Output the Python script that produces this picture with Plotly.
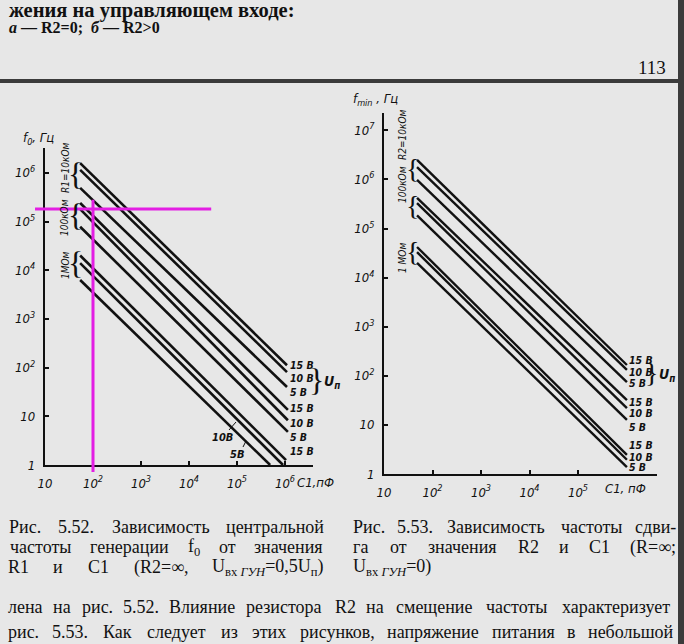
import re
import plotly.graph_objects as go

W, H = 684, 644

# ---------------- data ----------------
volt_labels = ["15 В", "10 В", "5 В"]

# Fig. 5.52: f0 vs C1 for R1 = 10 kOhm, 100 kOhm, 1 MOhm (each 15/10/5 V)
left_groups = ["R1=10кОм", "100кОм", "1МОм"]
left_c_start = [54, 54, 54, 54, 54, 54, 54, 54, 54]
left_c_end = [1.1e6, 1.1e6, 1.1e6, 1.15e6, 1.15e6, 1.15e6, 1.05e6, 9.1e5, 4.9e5]
left_f_start = [1.58e6, 1.15e6, 4.9e5, 2.4e5, 1.8e5, 7.8e4, 2.0e4, 1.4e4, 6.3e3]
left_f_end = [112, 81, 40, 13.5, 8.3, 4.8, 1.26, 1.0, 1.0]

# Fig. 5.53: fmin vs C1 for R2 = 10 kOhm, 100 kOhm, 1 MOhm (each 15/10/5 V)
right_groups = ["R2=10кОм", "100кОм", "1 МОм"]
right_c_start = [48, 48, 48, 48, 48, 48, 48, 48, 48]
right_c_end = [1.02e6, 1.02e6, 1.02e6, 1.02e6, 1.02e6, 1.02e6, 1.02e6, 1.02e6, 1.02e6]
right_f_start = [2.5e6, 1.78e6, 9.8e5, 4.2e5, 3.3e5, 1.86e5, 4.2e4, 3.3e4, 2.0e4]
right_f_end = [166, 132, 74, 32, 22, 12.6, 2.45, 1.95, 1.38]

# magenta guide lines drawn on Fig. 5.52
guide_h_c = [6.2, 2.9e4]
guide_h_f = [1.8e5, 1.8e5]
guide_v_c = [100, 100]
guide_v_f = [2.8e5, 0.72]

left_x_ticks = [10, 1e2, 1e3, 1e4, 1e5, 1e6]
left_x_text = ["10", "10<sup>2</sup>", "10<sup>3</sup>", "10<sup>4</sup>", "10<sup>5</sup>", "10<sup>6</sup>"]
left_y_ticks = [1, 10, 1e2, 1e3, 1e4, 1e5, 1e6]
left_y_text = ["1", "10", "10<sup>2</sup>", "10<sup>3</sup>", "10<sup>4</sup>", "10<sup>5</sup>", "10<sup>6</sup>"]
right_x_ticks = [10, 1e2, 1e3, 1e4, 1e5]
right_x_text = ["10", "10<sup>2</sup>", "10<sup>3</sup>", "10<sup>4</sup>", "10<sup>5</sup>"]
right_y_ticks = [1, 10, 1e2, 1e3, 1e4, 1e5, 1e6, 1e7]
right_y_text = ["1", "10", "10<sup>2</sup>", "10<sup>3</sup>", "10<sup>4</sup>", "10<sup>5</sup>", "10<sup>6</sup>", "10<sup>7</sup>"]

NB = "\u00a0"
caption_left = ["Рис. 5.52. Зависимость центральной",
                "частоты генерации f<sub>0</sub> от значения",
                "R1 и C1 (R2=∞, U<sub>вх" + NB + "<i>ГУН</i></sub>=0,5U<sub>п</sub>)"]
caption_right = ["Рис. 5.53. Зависимость частоты сдви-",
                 "га от значения R2 и C1 (R=∞;",
                 "U<sub>вх" + NB + "<i>ГУН</i></sub>=0)"]
body_lines = ["лена на рис. 5.52. Влияние резистора R2 на смещение частоты характеризует",
              "рис. 5.53. Как следует из этих рисунков, напряжение питания в небольшой"]

# ---------------- layout helpers ----------------
BG = "#e7e7e7"
DARK = "#3b3b3b"
INK = "#111111"
SERIF = "Liberation Serif, Times New Roman, serif"
NARROW = "Liberation Sans Narrow, DejaVu Sans Condensed, Liberation Sans, sans-serif"


def px(x):
    return x / W


def py(y):
    return 1 - y / H


fig = go.Figure()

for i in range(9):
    fig.add_trace(go.Scatter(x=[left_c_start[i], left_c_end[i]], y=[left_f_start[i], left_f_end[i]],
                             mode="lines", line=dict(color=INK, width=2.6),
                             xaxis="x", yaxis="y", showlegend=False, hoverinfo="skip"))
for i in range(9):
    fig.add_trace(go.Scatter(x=[right_c_start[i], right_c_end[i]], y=[right_f_start[i], right_f_end[i]],
                             mode="lines", line=dict(color=INK, width=2.4),
                             xaxis="x2", yaxis="y2", showlegend=False, hoverinfo="skip"))
fig.add_trace(go.Scatter(x=guide_h_c, y=guide_h_f, mode="lines", line=dict(color="#e31ee3", width=3),
                         xaxis="x3", yaxis="y3", showlegend=False, hoverinfo="skip"))
fig.add_trace(go.Scatter(x=guide_v_c, y=guide_v_f, mode="lines", line=dict(color="#e31ee3", width=3),
                         xaxis="x3", yaxis="y3", showlegend=False, hoverinfo="skip"))

tickfont = dict(family=NARROW, size=13, color=INK, style="italic")


def axis(domain, rng, ticks, texts, anchor, standoff, lw):
    return dict(type="log", domain=domain, range=rng, anchor=anchor, tickvals=ticks, ticktext=texts,
                showline=True, linecolor=INK, linewidth=lw, ticks="inside", ticklen=4, tickwidth=1.5,
                tickcolor=INK, showgrid=False, zeroline=False, tickfont=tickfont, automargin=False,
                ticklabelstandoff=standoff, fixedrange=True)


# pixel geometry: left chart x=10 at 45 px, 48 px/decade; f=1 at 465 px, 48.7 px/decade
L_x0, L_x1, L_dx = 45, 313, 48.0
L_y0, L_y1, L_dy = 465, 148, 48.7
R_x0, R_x1, R_dx = 384, 657, 48.5
R_y0, R_y1, R_dy = 474, 113, 49.1

layout_axes = dict(
    xaxis=axis([px(L_x0), px(L_x1)], [1, 1 + (L_x1 - L_x0) / L_dx], left_x_ticks, left_x_text, "y", 5, 2),
    yaxis=axis([py(L_y0), py(L_y1)], [0, (L_y0 - L_y1) / L_dy], left_y_ticks, left_y_text, "x", 5, 2.4),
    xaxis2=axis([px(R_x0), px(R_x1)], [1, 1 + (R_x1 - R_x0) / R_dx], right_x_ticks, right_x_text, "y2", 5, 2),
    yaxis2=axis([py(R_y0), py(R_y1)], [0, (R_y0 - R_y1) / R_dy], right_y_ticks, right_y_text, "x2", 5, 2),
)
# overlay axes with the same scale as the left chart, wider area, for the guide lines
G_x0, G_x1, G_yb, G_yt = 25, 230, 480, 190
layout_axes["xaxis3"] = dict(type="log", domain=[px(G_x0), px(G_x1)],
                             range=[1 + (G_x0 - L_x0) / L_dx, 1 + (G_x1 - L_x0) / L_dx],
                             anchor="y3", visible=False, fixedrange=True, automargin=False)
layout_axes["yaxis3"] = dict(type="log", domain=[py(G_yb), py(G_yt)],
                             range=[(L_y0 - G_yb) / L_dy, (L_y0 - G_yt) / L_dy],
                             anchor="x3", visible=False, fixedrange=True, automargin=False)

annotations = []


def ann(text, x, y, size=14, family=NARROW, xanchor="center", style="normal", weight="normal", angle=0,
        color=INK):
    annotations.append(dict(text=text, x=px(x), y=py(y), xref="paper", yref="paper", showarrow=False,
                            xanchor=xanchor, yanchor="middle", textangle=angle, borderpad=0,
                            font=dict(family=family, size=size, color=color, style=style, weight=weight)))


# approximate advance widths (em) of Times-like serif glyphs, to justify text lines
WIDE = set("жмшщюыфМЖШЩЮЫФ∞")


def char_w(c):
    if c in WIDE:
        return 0.72
    if c in ".,:;":
        return 0.25
    if c in " " + NB:
        return 0.25
    if c in "()-":
        return 0.33
    if c == "=":
        return 0.56
    if c.isupper():
        return 0.68
    if c.isdigit():
        return 0.5
    return 0.48


def text_w(t, size):
    total = 0.0
    parts = re.split(r"(<sub>.*?</sub>)", t)
    for p in parts:
        scale = 0.7 if p.startswith("<sub>") else 1.0
        plain = re.sub(r"<.*?>", "", p)
        total += sum(char_w(c) for c in plain) * scale
    return total * size


def justify(line, left, right, y, size, family=SERIF):
    words = line.split(" ")
    widths = [text_w(w, size) for w in words]
    gap = (right - left - sum(widths)) / max(len(words) - 1, 1)
    x = left
    for w, wd in zip(words, widths):
        ann(w, x + wd / 2, y, size, family=family)
        x += wd + gap


# axis titles
ann("f<sub>0</sub>, Гц", 22, 138, 13, xanchor="left", style="italic")
ann("C1,пФ", 296, 482, 13, xanchor="left", style="italic")
ann("f<sub>min</sub> , Гц", 352, 100, 13, xanchor="left", style="italic")
ann("C1, пФ", 604, 488, 13, xanchor="left", style="italic")

# group labels (vertical) and braces
for text, yc in zip(left_groups, [168, 218, 265]):
    ann(text, 65, yc, 10, style="italic", angle=-90)
for yc in [174, 215, 263]:
    ann("{", 75, yc, 32, family=SERIF)
for text, yc in zip(right_groups, [135, 185, 258]):
    ann(text, 402, yc, 10, style="italic", angle=-90)
for yc in [168, 205, 252]:
    ann("{", 412, yc, 28, family=SERIF)

# voltage labels on the right ends
for text, yc in zip(volt_labels * 2 + volt_labels[:1], [365, 378, 392, 408, 423, 437, 451]):
    ann(text, 289, yc, 10.5, xanchor="left", style="italic", weight="bold")
ann("10В", 222, 437, 11, style="italic", weight="bold")
ann("5В", 237, 454, 11, style="italic", weight="bold")
ann("}", 316, 380, 32, family=SERIF)
ann("U<sub>п</sub>", 323, 382, 14, xanchor="left", style="italic", weight="bold")

for text, yc in zip(volt_labels * 3, [360, 372, 383, 402, 413, 427, 445, 457, 467]):
    ann(text, 628, yc, 10.5, xanchor="left", style="italic", weight="bold")
ann("}", 651, 372, 28, family=SERIF)
ann("U<sub>п</sub>", 658, 375, 14, xanchor="left", style="italic", weight="bold")

# page text
ann("жения на управляющем входе:", 8, 11, 20.5, family=SERIF, xanchor="left", weight="bold")
ann("<i>а</i> — R2=0;  <i>б</i> — R2>0", 8, 28, 16, family=SERIF, xanchor="left", weight="bold")
ann("113", 637, 68, 19, family=SERIF, xanchor="left")

for i, t in enumerate(caption_left):
    justify(t, 8, 323, 527 + 20 * i, 18)
justify(caption_right[0], 352, 676, 527, 18)
justify(caption_right[1], 352, 676, 547, 18)
ann(caption_right[2], 352, 567, 18, family=SERIF, xanchor="left")
for i, t in enumerate(body_lines):
    justify(t, 8, 672, 607 + 25 * i, 18)

shapes = [
    dict(type="rect", xref="paper", yref="paper", x0=0, x1=1, y0=py(83), y1=py(79),
         fillcolor=DARK, line=dict(width=0), layer="above"),
    # page edge on the right, drawn as a thick vertical line
    dict(type="line", xref="paper", yref="paper", x0=px(681.5), x1=px(681.5), y0=0, y1=1,
         line=dict(color=DARK, width=7), layer="above"),
    dict(type="line", xref="paper", yref="paper", x0=px(229), y0=py(430), x1=px(236), y1=py(422),
         line=dict(color=INK, width=1)),
    dict(type="line", xref="paper", yref="paper", x0=px(243), y0=py(447), x1=px(246), y1=py(441),
         line=dict(color=INK, width=1)),
]

fig.update_layout(width=W, height=H, margin=dict(l=0, r=0, t=0, b=0, autoexpand=False),
                  paper_bgcolor=BG, plot_bgcolor="rgba(0,0,0,0)",
                  annotations=annotations, shapes=shapes, showlegend=False, **layout_axes)

fig.write_html("out.html", config={"displayModeBar": False},
               default_width="684px", default_height="644px")
